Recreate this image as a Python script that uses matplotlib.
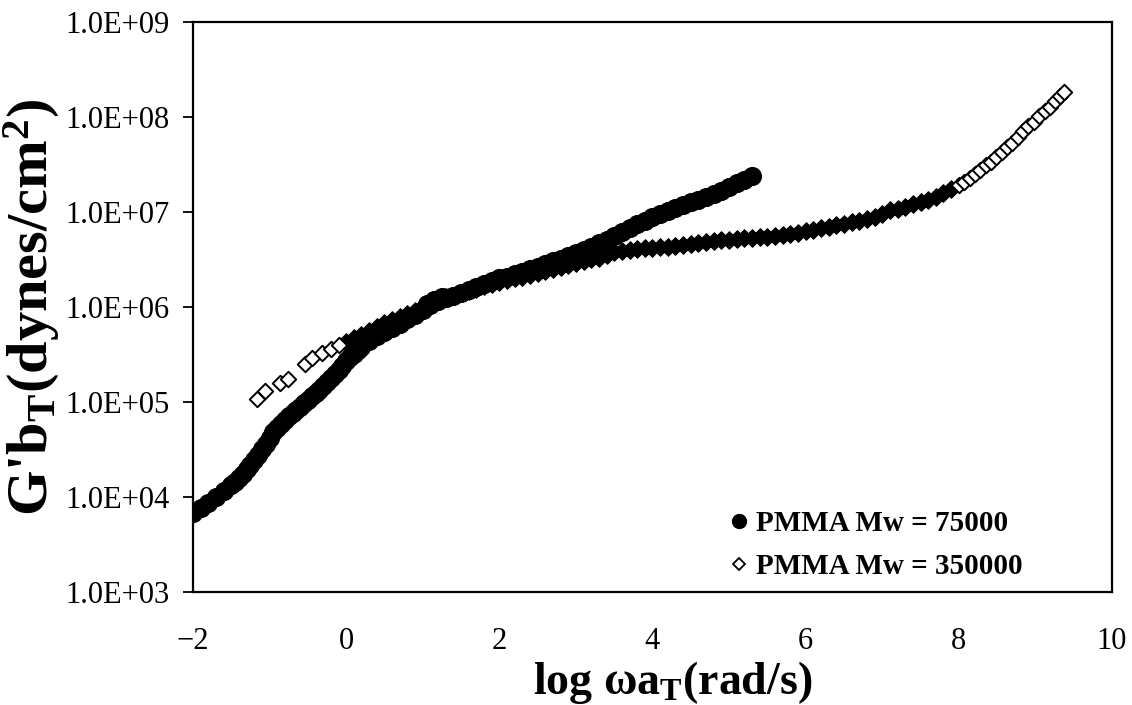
import numpy as np
import matplotlib
matplotlib.use("Agg")
import matplotlib.pyplot as plt
from matplotlib.lines import Line2D
from matplotlib.ticker import FixedLocator, FuncFormatter

plt.rcParams["font.family"] = ["Liberation Serif", "DejaVu Serif"]
plt.rcParams["mathtext.fontset"] = "custom"
plt.rcParams["mathtext.rm"] = "Liberation Serif:bold"
plt.rcParams["mathtext.bf"] = "Liberation Serif:bold"
plt.rcParams["mathtext.it"] = "Liberation Serif:bold:italic"

# master curves, reduced frequency log(w aT) vs log10(G' bT)
logw_75k = [-2.0, -1.9, -1.8, -1.7, -1.6, -1.5, -1.45, -1.4, -1.35, -1.3,
            -1.25, -1.2, -1.15, -1.1, -1.05, -1.0, -0.95, -0.9, -0.85, -0.8,
            -0.75, -0.7, -0.65, -0.6, -0.55, -0.5, -0.45, -0.4, -0.35, -0.3,
            -0.25, -0.2, -0.15, -0.1, -0.05, 0.0, 0.05, 0.1, 0.15, 0.2,
            0.3, 0.4, 0.5, 0.6, 0.7, 0.8, 0.9,
            1.0, 1.05, 1.1, 1.15, 1.2, 1.25, 1.3, 1.4, 1.5, 1.6, 1.7, 1.8, 1.9,
            2.0, 2.1, 2.2, 2.3, 2.4, 2.5, 2.6, 2.7, 2.8, 2.9,
            3.0, 3.1, 3.2, 3.3, 3.4, 3.5, 3.6, 3.7, 3.8, 3.9,
            4.0, 4.1, 4.2, 4.3, 4.4, 4.5, 4.6, 4.7, 4.8, 4.9,
            5.0, 5.1, 5.2, 5.3]
logg_75k = [3.83, 3.88, 3.94, 4.00, 4.06, 4.13, 4.16, 4.20, 4.24, 4.29,
            4.34, 4.39, 4.44, 4.50, 4.56, 4.62, 4.68, 4.73, 4.77, 4.81,
            4.85, 4.88, 4.92, 4.95, 4.99, 5.02, 5.06, 5.09, 5.13, 5.17,
            5.21, 5.25, 5.29, 5.34, 5.38, 5.43, 5.47, 5.51, 5.55, 5.58,
            5.64, 5.69, 5.74, 5.78, 5.82, 5.87, 5.92,
            5.97, 6.03, 6.02, 6.07, 6.06, 6.10, 6.09, 6.12, 6.15, 6.18, 6.21, 6.24, 6.27,
            6.30, 6.32, 6.35, 6.37, 6.40, 6.42, 6.45, 6.48, 6.51, 6.54,
            6.57, 6.60, 6.63, 6.67, 6.71, 6.75, 6.79, 6.83, 6.87, 6.91,
            6.95, 6.98, 7.01, 7.04, 7.07, 7.10, 7.13, 7.16, 7.19, 7.22,
            7.26, 7.30, 7.34, 7.38]

logw_350k = [-1.17, -1.06, -0.86, -0.76, -0.54, -0.44, -0.31, -0.20, -0.10,
             0.0, 0.1, 0.2, 0.3, 0.4, 0.5, 0.6, 0.7, 0.8, 0.9,
             1.0, 1.1, 1.2, 1.3, 1.4, 1.5, 1.6, 1.7, 1.8, 1.9,
             2.0, 2.1, 2.2, 2.3, 2.4, 2.5, 2.6, 2.7, 2.8, 2.9,
             3.0, 3.1, 3.2, 3.3, 3.4, 3.5, 3.6, 3.7, 3.8, 3.9,
             4.0, 4.1, 4.2, 4.3, 4.4, 4.5, 4.6, 4.7, 4.8, 4.9,
             5.0, 5.1, 5.2, 5.3, 5.4, 5.5, 5.6, 5.7, 5.8, 5.9,
             6.0, 6.1, 6.2, 6.3, 6.4, 6.5, 6.6, 6.7, 6.8, 6.9,
             7.0, 7.1, 7.2, 7.3, 7.4, 7.5, 7.6, 7.7, 7.8, 7.9,
             8.00, 8.07, 8.14, 8.21, 8.28, 8.35, 8.42, 8.49, 8.56, 8.63,
             8.70, 8.77, 8.84, 8.91, 8.98, 9.05, 9.12, 9.19, 9.26, 9.32, 9.37]
logg_350k = [5.03, 5.12, 5.20, 5.24, 5.40, 5.46, 5.52, 5.56, 5.60,
             5.63, 5.67, 5.71, 5.75, 5.79, 5.83, 5.86, 5.89, 5.93, 5.96,
             6.00, 6.04, 6.07, 6.10, 6.12, 6.15, 6.17, 6.19, 6.22, 6.24,
             6.26, 6.28, 6.30, 6.32, 6.34, 6.36, 6.38, 6.40, 6.42, 6.44,
             6.46, 6.48, 6.50, 6.52, 6.55, 6.58, 6.59, 6.60, 6.61, 6.62,
             6.62, 6.63, 6.63, 6.64, 6.65, 6.66, 6.67, 6.68, 6.69, 6.70,
             6.71, 6.72, 6.73, 6.73, 6.74, 6.74, 6.75, 6.76, 6.77, 6.78,
             6.80, 6.81, 6.83, 6.84, 6.86, 6.87, 6.89, 6.91, 6.93, 6.95,
             6.98, 7.02, 7.03, 7.05, 7.08, 7.10, 7.13, 7.16, 7.20, 7.24,
             7.28, 7.32, 7.36, 7.40, 7.44, 7.49, 7.53, 7.58, 7.63, 7.68,
             7.73, 7.79, 7.85, 7.90, 7.95, 8.01, 8.06, 8.11, 8.17, 8.22, 8.26]

LABEL_75K = "PMMA Mw = 75000"
LABEL_350K = "PMMA Mw = 350000"
YTICKS = [1e3, 1e4, 1e5, 1e6, 1e7, 1e8, 1e9]
XTICKS = [-2, 0, 2, 4, 6, 8, 10]

fig = plt.figure(figsize=(11.32, 7.05), dpi=100)
ax = fig.add_axes([0.1705, 0.1603, 0.8118, 0.8085])

x1 = np.array(logw_75k)
x2 = np.array(logw_350k)
g1 = 10 ** np.array(logg_75k)
g2 = 10 ** np.array(logg_350k)

# where the high-Mw points pile up they merge into a solid band
dense = (x2 > -0.05) & (x2 < 7.95)
ax.scatter(x2[dense], g2[dense], s=80, marker="D", color="black",
           linewidths=0.8, zorder=3)
ax.scatter(x1, g1, s=190, marker="o", color="black", linewidths=0, zorder=4)
ax.scatter(x2[~dense], g2[~dense], s=62, marker="D", facecolor="white",
           edgecolor="black", linewidths=1.4, zorder=5)

ax.set_yscale("log")
ax.set_xlim(-2, 10)
ax.set_ylim(1e3, 1e9)
ax.yaxis.set_major_locator(FixedLocator(YTICKS))
ax.yaxis.set_minor_locator(FixedLocator([]))
ax.yaxis.set_major_formatter(
    FuncFormatter(lambda v, p: "1.0E+%02d" % round(np.log10(v))))
ax.set_xticks(XTICKS)
ax.set_xticklabels(["\u22122" if t < 0 else str(t) for t in XTICKS])

ax.tick_params(axis="y", direction="out", length=7, width=1.3,
               labelsize=22, pad=10)
ax.tick_params(axis="x", length=0, labelsize=22, pad=25)
for sp in ax.spines.values():
    sp.set_linewidth(1.6)

ax.set_ylabel("G'b$_\\mathrm{T}$(dynes/cm$^\\mathrm{2}$)", fontsize=42,
              fontweight="bold", labelpad=2)
ax.set_xlabel("log \u03c9a$_\\mathrm{T}$(rad/s)", fontsize=33,
              fontweight="bold")
ax.xaxis.set_label_coords(0.522, -0.118)

handles = [Line2D([], [], ls="none", marker="o", ms=10, color="black"),
           Line2D([], [], ls="none", marker="D", ms=6, mfc="white",
                  mec="black", mew=1.3)]
ax.legend(handles, [LABEL_75K, LABEL_350K], loc="lower right",
          bbox_to_anchor=(0.916, 0.0), frameon=False,
          prop={"weight": "bold", "size": 21}, handlelength=0.6,
          handletextpad=0.3, labelspacing=0.55, borderaxespad=0.0)

fig.savefig("out.png", dpi=100, facecolor="white")
